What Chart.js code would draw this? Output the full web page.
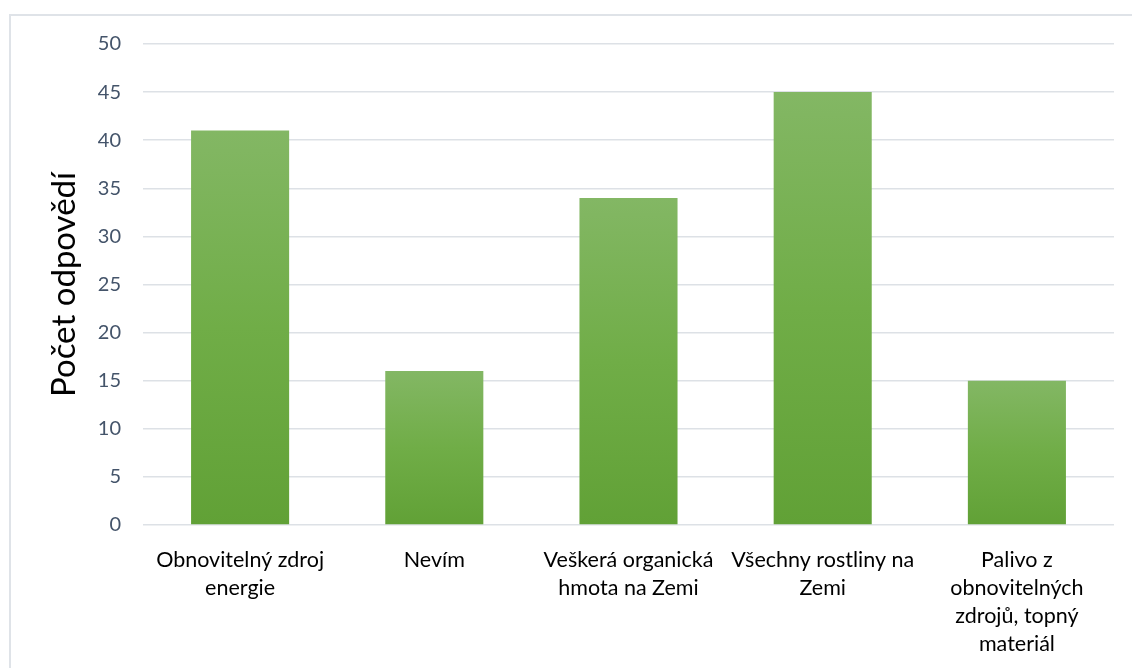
<!DOCTYPE html>
<html lang="cs">
<head>
    <meta charset="UTF-8">
    <title>Počet odpovědí</title>
    <script src="https://cdn.jsdelivr.net/npm/chart.js"></script>
    <style>
        html, body { margin: 0; padding: 0; background: #fff; overflow: hidden; }
        .frame {
            position: absolute; left: 9px; top: 14px;
            width: 1160px; height: 700px;
            border: 2px solid #dfe3e8; box-sizing: border-box;
        }
        .wrap { position: absolute; left: 0; top: 0; width: 1132px; height: 668px; }
    </style>
</head>
<body>
    <div class="frame"></div>
    <div class="wrap"><canvas id="chart"></canvas></div>
    <script>
        const categories = [
            ['Obnovitelný zdroj', 'energie'],
            ['Nevím'],
            ['Veškerá organická', 'hmota na Zemi'],
            ['Všechny rostliny na', 'Zemi'],
            ['Palivo z', 'obnovitelných', 'zdrojů, topný', 'materiál']
        ];
        const counts = [41, 16, 34, 45, 15];
        const yTicks = [0, 5, 10, 15, 20, 25, 30, 35, 40, 45, 50];

        function barGradient(context) {
            const chart = context.chart;
            if (!chart.chartArea) return '#70ad47';
            const y = chart.scales.y;
            const top = y.getPixelForValue(context.raw);
            const bottom = y.getPixelForValue(0);
            const g = chart.ctx.createLinearGradient(0, top, 0, bottom);
            g.addColorStop(0, '#83b764');
            g.addColorStop(0.5, '#70ad47');
            g.addColorStop(1, '#61a136');
            return g;
        }

        new Chart(document.getElementById('chart'), {
            type: 'bar',
            data: {
                labels: categories,
                datasets: [{
                    data: counts,
                    backgroundColor: barGradient,
                    borderWidth: 0,
                    categoryPercentage: 1,
                    barPercentage: 0.505
                }]
            },
            options: {
                responsive: true,
                maintainAspectRatio: false,
                animation: false,
                layout: { padding: { top: 44, right: 18, left: 0, bottom: 0 } },
                plugins: { legend: { display: false }, tooltip: { enabled: false } },
                scales: {
                    x: {
                        grid: { display: false },
                        border: { display: false },
                        ticks: {
                            color: '#000',
                            font: { family: 'Lato', size: 21.5, lineHeight: 1.3 },
                            padding: 13,
                            maxRotation: 0,
                            autoSkip: false
                        },
                        afterFit: s => { s.height = 143; }
                    },
                    y: {
                        min: 0,
                        max: 50,
                        afterBuildTicks: s => { s.ticks = yTicks.map(v => ({ value: v })); },
                        grid: { color: '#dde1e6', lineWidth: 1.5, drawTicks: false },
                        border: { display: false },
                        ticks: {
                            color: '#44546a',
                            font: { family: 'Lato', size: 20 },
                            padding: 22
                        },
                        title: {
                            display: true,
                            text: 'Počet odpovědí',
                            color: '#000',
                            font: { family: 'Lato', size: 33 },
                            padding: { top: 45 }
                        },
                        afterFit: s => { s.width = 143; }
                    }
                }
            }
        });
    </script>
</body>
</html>
